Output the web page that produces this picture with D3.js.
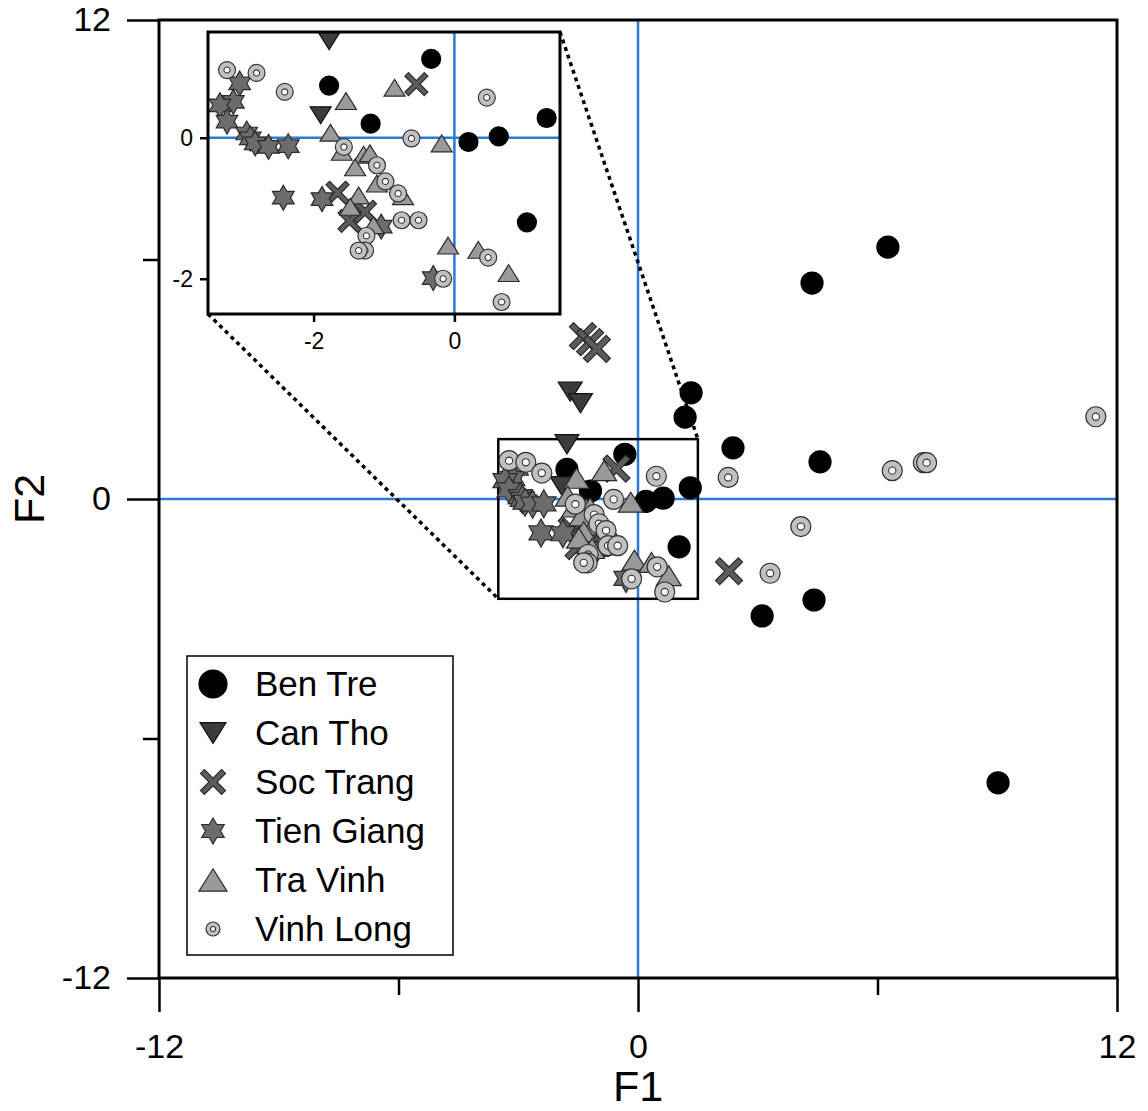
<!DOCTYPE html>
<html>
<head>
<meta charset="utf-8">
<script src="https://cdn.jsdelivr.net/npm/d3@7"></script>
<style>
  html, body { margin: 0; padding: 0; background: #fff; }
  svg { display: block; font-family: Arial, "Liberation Sans", Helvetica, sans-serif; }
</style>
</head>
<body>
<svg id="chart" width="1148" height="1111"></svg>
<script>
// Factor scores (F1, F2) per province
const benTre = [[6.26,6.31],[4.36,5.41],[1.33,2.66],[1.18,2.05],[2.38,1.28],[4.56,0.93],[3.11,-2.93],[4.41,-2.53],[9.02,-7.11],
  [-0.33,1.12],[-1.78,0.74],[-1.19,0.20],[1.31,0.28],[0.63,0.02],[0.20,-0.06],[1.03,-1.20]];
const canTho = [[-1.70,2.69],[-1.44,2.40],[-1.78,1.37],[-1.90,0.32]];
const socTrang = [[-1.38,4.08],[-1.20,3.93],[-1.03,3.76],[2.28,-1.81],[-0.54,0.76],[-1.66,-0.78],[-1.27,-1.05],[-1.49,-1.18]];
const tienGiang = [[-3.05,0.77],[-3.14,0.51],[-3.33,0.46],[-3.23,0.23],[-2.95,0.06],[-2.90,-0.01],[-2.83,-0.08],[-2.64,-0.13],
  [-2.36,-0.12],[-2.43,-0.85],[-1.88,-0.87],[-1.04,-1.26],[-0.30,-1.99]];
const traVinh = [[-0.85,0.71],[-1.54,0.52],[-1.76,0.07],[-1.60,-0.20],[-0.18,-0.08],[-1.29,-0.24],[-1.20,-0.22],[-1.41,-0.42],
  [-1.10,-0.65],[-1.36,-0.82],[-1.48,-0.98],[-0.73,-0.83],[-1.15,-1.24],[-0.09,-1.53],[0.34,-1.59],[0.77,-1.92]];
const vinhLong = [[-3.23,0.96],[-2.81,0.92],[-2.41,0.65],[0.46,0.57],[-0.61,-0.01],[-1.57,-0.13],[-1.10,-0.39],[-0.98,-0.62],
  [-0.80,-0.79],[-0.75,-1.17],[-0.51,-1.17],[-1.25,-1.39],[-1.27,-1.60],[-1.36,-1.60],[0.48,-1.70],[-0.16,-2.00],[0.67,-2.33],
  [11.47,2.06],[2.26,0.54],[6.37,0.71],[7.15,0.91],[7.23,0.91],[4.08,-0.69],[3.31,-1.86]];

const provinces = ["Ben Tre","Can Tho","Soc Trang","Tien Giang","Tra Vinh","Vinh Long"];
const provinceData = [benTre, canTho, socTrang, tienGiang, traVinh, vinhLong];

// Axis ticks
const mainTicks = [-12,-6,0,6,12];
const mainLabelled = [-12,0,12];
const insetXTicks = [-2,0];
const insetYTicks = [0,-2];

// Domains
const mainDomain = [-12,12];
const insetXDomain = [-3.5,1.5];
const insetYDomain = [-2.5,1.5];

// Custom D3 symbol types; "size" is used as a radius in px
const shapes = {
  circle: { draw(c, r) { c.moveTo(r, 0); c.arc(0, 0, r, 0, 2 * Math.PI); } },
  triUp: { draw(c, r) { const h = r * 1.6; c.moveTo(0, -h / 2); c.lineTo(r, h / 2); c.lineTo(-r, h / 2); c.closePath(); } },
  triDown: { draw(c, r) { const h = r * 1.6; c.moveTo(0, h / 2); c.lineTo(r, -h / 2); c.lineTo(-r, -h / 2); c.closePath(); } },
  cross: { draw(c, r) {
    const t = r * 0.22, L = r * Math.SQRT2 - t;
    const pts = [[-t,-L],[t,-L],[t,-t],[L,-t],[L,t],[t,t],[t,L],[-t,L],[-t,t],[-L,t],[-L,-t],[-t,-t]]
      .map(([x, y]) => [(x - y) / Math.SQRT2, (x + y) / Math.SQRT2]);
    pts.forEach((p, i) => i ? c.lineTo(p[0], p[1]) : c.moveTo(p[0], p[1]));
    c.closePath();
  } },
  hexagram: { draw(c, r) {
    const ri = r / Math.sqrt(3);
    for (let i = 0; i < 12; i++) {
      const a = -Math.PI / 2 + i * Math.PI / 6, rr = i % 2 ? ri : r;
      const px = rr * Math.cos(a), py = rr * Math.sin(a);
      i ? c.lineTo(px, py) : c.moveTo(px, py);
    }
    c.closePath();
  } }
};

const styles = [
  { shape: "circle",   fill: "#000000", stroke: "#000000", main: 11,   inset: 9.5, legend: 14 },
  { shape: "triDown",  fill: "#3c3c3c", stroke: "#111111", main: 12,   inset: 10.5, legend: 13 },
  { shape: "cross",    fill: "#5c5c5c", stroke: "#2a2a2a", main: 13.5, inset: 11.5, legend: 12.5 },
  { shape: "hexagram", fill: "#6c6c6c", stroke: "#2a2a2a", main: 14,   inset: 12.5, legend: 13 },
  { shape: "triUp",    fill: "#9a9a9a", stroke: "#2a2a2a", main: 12.5, inset: 10.5, legend: 14 },
  { shape: "ring",     fill: "#c0c0c0", stroke: "#333333", main: 10,   inset: 8.5, legend: 7 }
];

const svg = d3.select("#chart");
const blue = "#2a7bd8";
const font = "Arial, 'Liberation Sans', sans-serif";

const x = d3.scaleLinear().domain(mainDomain).range([159, 1117]);
const y = d3.scaleLinear().domain(mainDomain).range([978, 20]);

function drawMarker(g, style, r) {
  if (style.shape === "ring") {
    g.append("circle").attr("r", r).attr("fill", style.fill).attr("stroke", style.stroke).attr("stroke-width", 1.2);
    g.append("circle").attr("r", r * 0.36).attr("fill", "#fff").attr("stroke", style.stroke).attr("stroke-width", 1.1);
  } else {
    g.append("path")
      .attr("d", d3.symbol().type(shapes[style.shape]).size(r)())
      .attr("fill", style.fill).attr("stroke", style.stroke).attr("stroke-width", 1.2);
  }
}

function drawPoints(parent, xs, ys, key) {
  provinceData.forEach((pts, i) => {
    const st = styles[i];
    parent.append("g").selectAll("g").data(pts).join("g")
      .attr("transform", d => `translate(${xs(d[0])},${ys(d[1])})`)
      .each(function() { drawMarker(d3.select(this), st, st[key]); });
  });
}

// Zero reference lines
svg.append("line").attr("x1", x(0)).attr("x2", x(0)).attr("y1", y(12)).attr("y2", y(-12))
  .attr("stroke", blue).attr("stroke-width", 2.5);
svg.append("line").attr("x1", x(-12)).attr("x2", x(12)).attr("y1", y(0)).attr("y2", y(0))
  .attr("stroke", blue).attr("stroke-width", 2.5);

// Axes
const fmt = d => mainLabelled.includes(d) ? String(d) : "";
const xAxis = svg.append("g").attr("transform", `translate(0,${y(-12)})`)
  .call(d3.axisBottom(x).tickValues(mainTicks).tickSize(34).tickSizeOuter(0).tickPadding(22).tickFormat(fmt));
xAxis.selectAll(".tick line").attr("y2", d => mainLabelled.includes(d) ? 34 : 17);
const yAxis = svg.append("g").attr("transform", `translate(${x(-12)},0)`)
  .call(d3.axisLeft(y).tickValues(mainTicks).tickSize(32).tickSizeOuter(0).tickPadding(16).tickFormat(fmt));
yAxis.selectAll(".tick line").attr("x2", d => mainLabelled.includes(d) ? -32 : -16);
[xAxis, yAxis].forEach(a => {
  a.select(".domain").remove();
  a.selectAll(".tick line").attr("stroke", "#000").attr("stroke-width", 2.5);
  a.selectAll("text").attr("fill", "#000").attr("font-size", 34).attr("font-family", font);
});

// Plot frame
svg.append("rect").attr("x", x(-12)).attr("y", y(12)).attr("width", x(12) - x(-12)).attr("height", y(-12) - y(12))
  .attr("fill", "none").attr("stroke", "#000").attr("stroke-width", 3);

// Axis titles
svg.append("text").attr("x", x(0)).attr("y", 1101).attr("text-anchor", "middle").attr("font-size", 43).text("F1");
svg.append("text").attr("transform", `translate(44,${y(0)}) rotate(-90)`).attr("text-anchor", "middle")
  .attr("font-size", 43).text("F2");

// Zoom window on the main plot
svg.append("rect").attr("x", x(insetXDomain[0])).attr("y", y(insetYDomain[1]))
  .attr("width", x(insetXDomain[1]) - x(insetXDomain[0])).attr("height", y(insetYDomain[0]) - y(insetYDomain[1]))
  .attr("fill", "none").attr("stroke", "#000").attr("stroke-width", 2.5);

// Main points
drawPoints(svg, x, y, "main");

// Inset
const xi = d3.scaleLinear().domain(insetXDomain).range([208, 560]);
const yi = d3.scaleLinear().domain(insetYDomain).range([314, 32]);

// Connectors from the zoom window to the inset
const dotted = [
  [xi(insetXDomain[0]), yi(insetYDomain[0]), x(insetXDomain[0]), y(insetYDomain[0])],
  [xi(insetXDomain[1]), yi(insetYDomain[1]), x(insetXDomain[1]), y(insetYDomain[1])]
];
svg.append("g").selectAll("line").data(dotted).join("line")
  .attr("x1", d => d[0]).attr("y1", d => d[1]).attr("x2", d => d[2]).attr("y2", d => d[3])
  .attr("stroke", "#000").attr("stroke-width", 3.5).attr("stroke-dasharray", "4 4").attr("stroke-linecap", "butt");

const inset = svg.append("g");
inset.append("rect").attr("x", 208).attr("y", 32).attr("width", 352).attr("height", 282).attr("fill", "#fff");
svg.append("defs").append("clipPath").attr("id", "insetClip")
  .append("rect").attr("x", 208).attr("y", 32).attr("width", 352).attr("height", 282);
const insetBody = inset.append("g").attr("clip-path", "url(#insetClip)");
insetBody.append("line").attr("x1", xi(0)).attr("x2", xi(0)).attr("y1", 32).attr("y2", 314)
  .attr("stroke", blue).attr("stroke-width", 2.5);
insetBody.append("line").attr("x1", 208).attr("x2", 560).attr("y1", yi(0)).attr("y2", yi(0))
  .attr("stroke", blue).attr("stroke-width", 2.5);
drawPoints(insetBody, xi, yi, "inset");

const ixAxis = inset.append("g").attr("transform", "translate(0,314)")
  .call(d3.axisBottom(xi).tickValues(insetXTicks).tickSize(8).tickSizeOuter(0).tickPadding(11).tickFormat(d => String(d)));
const iyAxis = inset.append("g").attr("transform", "translate(208,0)")
  .call(d3.axisLeft(yi).tickValues(insetYTicks).tickSize(8).tickSizeOuter(0).tickPadding(7).tickFormat(d => String(d)));
[ixAxis, iyAxis].forEach(a => {
  a.select(".domain").remove();
  a.selectAll(".tick line").attr("stroke", "#000").attr("stroke-width", 2.5);
  a.selectAll("text").attr("fill", "#000").attr("font-size", 23).attr("font-family", font);
});
inset.append("rect").attr("x", 208).attr("y", 32).attr("width", 352).attr("height", 282)
  .attr("fill", "none").attr("stroke", "#000").attr("stroke-width", 3);

// Legend
const legend = svg.append("g");
legend.append("rect").attr("x", 187).attr("y", 656).attr("width", 266).attr("height", 299)
  .attr("fill", "#fff").attr("stroke", "#000").attr("stroke-width", 1.5);
const items = legend.selectAll("g.item").data(provinces).join("g").attr("class", "item")
  .attr("transform", (d, i) => `translate(0,${684 + i * 49})`);
items.each(function(d, i) {
  const g = d3.select(this);
  drawMarker(g.append("g").attr("transform", "translate(213,0)"), styles[i], styles[i].legend);
  g.append("text").attr("x", 255).attr("dy", "0.35em").attr("font-size", 35).attr("fill", "#000").text(d);
});
</script>
</body>
</html>
